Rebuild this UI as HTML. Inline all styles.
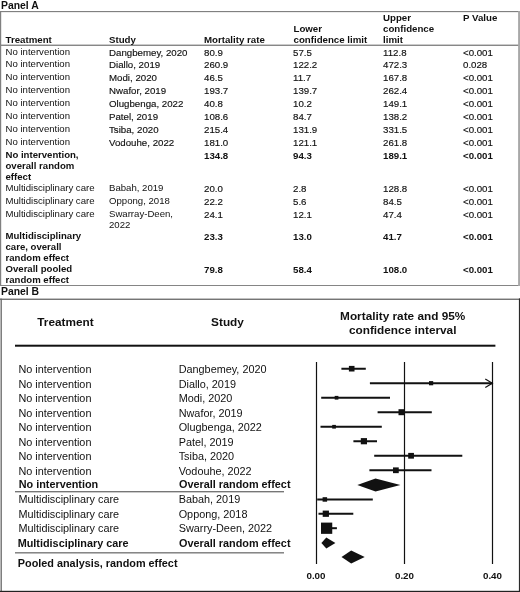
<!DOCTYPE html>
<html lang="en"><head><meta charset="utf-8"><title>Figure</title>
<style>
html,body{margin:0;padding:0;background:#fff;}
body{width:520px;height:592px;position:relative;overflow:hidden;font-family:"Liberation Sans",sans-serif;color:#111;}
.t{position:absolute;white-space:nowrap;font-size:8.6px;line-height:11px;}
.b{font-weight:bold;}
.pa{font-size:10.4px;line-height:12px;}
.h{font-size:9.7px;line-height:11px;}
.a{font-size:9.6px;line-height:11px;}
.c{font-size:9.7px;line-height:11px;-webkit-text-stroke:0.15px #111;}
.c.b{-webkit-text-stroke:0;}
.c.ml{line-height:10.3px;}
.bh{font-size:11.8px;line-height:14px;}
.ctr{transform:translateX(-50%);text-align:center;}
.br{font-size:10.85px;line-height:13px;}
.br.b{font-size:10.85px;}
.boxA{position:absolute;left:0;top:11px;width:520px;height:275px;border:1px solid #7d7d7d;border-right:2px solid #aaa;box-sizing:border-box;}
.boxB{position:absolute;left:0;top:298px;width:520px;height:294px;border-left:2px solid #888;border-top:2px solid #888;border-right:1px solid #333;border-bottom:1px solid #222;box-sizing:border-box;}
.hl{position:absolute;height:1px;background:#444;}
.fp{position:absolute;left:0;top:0;}
</style></head>
<body>
<div class="t b pa" style="left:1px;top:-0.3px;">Panel A</div>
<div class="t b h" style="left:5.5px;top:33.64px;">Treatment</div>
<div class="t b h" style="left:109px;top:33.64px;">Study</div>
<div class="t b h" style="left:204px;top:33.64px;">Mortality rate</div>
<div class="t b h" style="left:293.5px;top:22.64px;">Lower<br>confidence limit</div>
<div class="t b h" style="left:383px;top:11.64px;">Upper<br>confidence<br>limit</div>
<div class="t b h" style="left:463px;top:11.64px;">P Value</div>
<div class="t a" style="left:5.5px;top:45.67px;">No intervention</div>
<div class="t c" style="left:109px;top:46.64px;">Dangbemey, 2020</div>
<div class="t c" style="left:204px;top:46.64px;">80.9</div>
<div class="t c" style="left:293px;top:46.64px;">57.5</div>
<div class="t c" style="left:383px;top:46.64px;">112.8</div>
<div class="t c" style="left:463px;top:46.64px;">&lt;0.001</div>
<div class="t a" style="left:5.5px;top:58.47px;">No intervention</div>
<div class="t c" style="left:109px;top:59.44px;">Diallo, 2019</div>
<div class="t c" style="left:204px;top:59.44px;">260.9</div>
<div class="t c" style="left:293px;top:59.44px;">122.2</div>
<div class="t c" style="left:383px;top:59.44px;">472.3</div>
<div class="t c" style="left:463px;top:59.44px;">0.028</div>
<div class="t a" style="left:5.5px;top:71.27px;">No intervention</div>
<div class="t c" style="left:109px;top:72.34px;">Modi, 2020</div>
<div class="t c" style="left:204px;top:72.34px;">46.5</div>
<div class="t c" style="left:293px;top:72.34px;">11.7</div>
<div class="t c" style="left:383px;top:72.34px;">167.8</div>
<div class="t c" style="left:463px;top:72.34px;">&lt;0.001</div>
<div class="t a" style="left:5.5px;top:84.17px;">No intervention</div>
<div class="t c" style="left:109px;top:85.34px;">Nwafor, 2019</div>
<div class="t c" style="left:204px;top:85.34px;">193.7</div>
<div class="t c" style="left:293px;top:85.34px;">139.7</div>
<div class="t c" style="left:383px;top:85.34px;">262.4</div>
<div class="t c" style="left:463px;top:85.34px;">&lt;0.001</div>
<div class="t a" style="left:5.5px;top:97.17px;">No intervention</div>
<div class="t c" style="left:109px;top:98.14px;">Olugbenga, 2022</div>
<div class="t c" style="left:204px;top:98.14px;">40.8</div>
<div class="t c" style="left:293px;top:98.14px;">10.2</div>
<div class="t c" style="left:383px;top:98.14px;">149.1</div>
<div class="t c" style="left:463px;top:98.14px;">&lt;0.001</div>
<div class="t a" style="left:5.5px;top:110.17px;">No intervention</div>
<div class="t c" style="left:109px;top:110.94px;">Patel, 2019</div>
<div class="t c" style="left:204px;top:110.94px;">108.6</div>
<div class="t c" style="left:293px;top:110.94px;">84.7</div>
<div class="t c" style="left:383px;top:110.94px;">138.2</div>
<div class="t c" style="left:463px;top:110.94px;">&lt;0.001</div>
<div class="t a" style="left:5.5px;top:123.17px;">No intervention</div>
<div class="t c" style="left:109px;top:123.64px;">Tsiba, 2020</div>
<div class="t c" style="left:204px;top:123.64px;">215.4</div>
<div class="t c" style="left:293px;top:123.64px;">131.9</div>
<div class="t c" style="left:383px;top:123.64px;">331.5</div>
<div class="t c" style="left:463px;top:123.64px;">&lt;0.001</div>
<div class="t a" style="left:5.5px;top:135.77px;">No intervention</div>
<div class="t c" style="left:109px;top:136.64px;">Vodouhe, 2022</div>
<div class="t c" style="left:204px;top:136.64px;">181.0</div>
<div class="t c" style="left:293px;top:136.64px;">121.1</div>
<div class="t c" style="left:383px;top:136.64px;">261.8</div>
<div class="t c" style="left:463px;top:136.64px;">&lt;0.001</div>
<div class="t b a ml" style="left:5.5px;top:149.07px;">No intervention,<br>overall random<br>effect</div>
<div class="t c b" style="left:204px;top:149.84px;">134.8</div>
<div class="t c b" style="left:293px;top:149.84px;">94.3</div>
<div class="t c b" style="left:383px;top:149.84px;">189.1</div>
<div class="t c b" style="left:463px;top:149.84px;">&lt;0.001</div>
<div class="t a" style="left:5.5px;top:181.67px;">Multidisciplinary care</div>
<div class="t a" style="left:109px;top:182.42px;">Babah, 2019</div>
<div class="t c" style="left:204px;top:183.14px;">20.0</div>
<div class="t c" style="left:293px;top:183.14px;">2.8</div>
<div class="t c" style="left:383px;top:183.14px;">128.8</div>
<div class="t c" style="left:463px;top:183.14px;">&lt;0.001</div>
<div class="t a" style="left:5.5px;top:194.67px;">Multidisciplinary care</div>
<div class="t a" style="left:109px;top:195.42px;">Oppong, 2018</div>
<div class="t c" style="left:204px;top:196.14px;">22.2</div>
<div class="t c" style="left:293px;top:196.14px;">5.6</div>
<div class="t c" style="left:383px;top:196.14px;">84.5</div>
<div class="t c" style="left:463px;top:196.14px;">&lt;0.001</div>
<div class="t a" style="left:5.5px;top:207.92px;">Multidisciplinary care</div>
<div class="t a" style="left:109px;top:208.17px;">Swarray-Deen,<br>2022</div>
<div class="t c" style="left:204px;top:208.89px;">24.1</div>
<div class="t c" style="left:293px;top:208.89px;">12.1</div>
<div class="t c" style="left:383px;top:208.89px;">47.4</div>
<div class="t c" style="left:463px;top:208.89px;">&lt;0.001</div>
<div class="t b a ml" style="left:5.5px;top:229.77px;">Multidisciplinary<br>care, overall<br>random effect</div>
<div class="t c b" style="left:204px;top:230.84px;">23.3</div>
<div class="t c b" style="left:293px;top:230.84px;">13.0</div>
<div class="t c b" style="left:383px;top:230.84px;">41.7</div>
<div class="t c b" style="left:463px;top:230.84px;">&lt;0.001</div>
<div class="t b a ml" style="left:5.5px;top:262.67px;">Overall pooled<br>random effect</div>
<div class="t c b" style="left:204px;top:263.84px;">79.8</div>
<div class="t c b" style="left:293px;top:263.84px;">58.4</div>
<div class="t c b" style="left:383px;top:263.84px;">108.0</div>
<div class="t c b" style="left:463px;top:263.84px;">&lt;0.001</div>
<div class="t b pa" style="left:1px;top:286.4px;">Panel B</div>
<div class="t b bh ctr" style="left:65.5px;top:315.01px;">Treatment</div>
<div class="t b bh ctr" style="left:227.5px;top:315.01px;">Study</div>
<div class="t b bh ctr" style="left:402.7px;top:309.41px;">Mortality rate and 95%<br>confidence interval</div>
<div class="t br" style="left:18.5px;top:363.19px;">No intervention</div>
<div class="t br" style="left:178.7px;top:363.19px;">Dangbemey, 2020</div>
<div class="t br" style="left:18.5px;top:377.69px;">No intervention</div>
<div class="t br" style="left:178.7px;top:377.69px;">Diallo, 2019</div>
<div class="t br" style="left:18.5px;top:392.19px;">No intervention</div>
<div class="t br" style="left:178.7px;top:392.19px;">Modi, 2020</div>
<div class="t br" style="left:18.5px;top:406.69px;">No intervention</div>
<div class="t br" style="left:178.7px;top:406.69px;">Nwafor, 2019</div>
<div class="t br" style="left:18.5px;top:421.19px;">No intervention</div>
<div class="t br" style="left:178.7px;top:421.19px;">Olugbenga, 2022</div>
<div class="t br" style="left:18.5px;top:435.69px;">No intervention</div>
<div class="t br" style="left:178.7px;top:435.69px;">Patel, 2019</div>
<div class="t br" style="left:18.5px;top:450.19px;">No intervention</div>
<div class="t br" style="left:178.7px;top:450.19px;">Tsiba, 2020</div>
<div class="t br" style="left:18.5px;top:464.69px;">No intervention</div>
<div class="t br" style="left:178.7px;top:464.69px;">Vodouhe, 2022</div>
<div class="t br b" style="left:18.7px;top:477.74px;">No intervention</div>
<div class="t br b" style="left:179px;top:477.74px;">Overall random effect</div>
<div class="t br" style="left:18.5px;top:493.24px;">Multidisciplinary care</div>
<div class="t br" style="left:178.7px;top:493.24px;">Babah, 2019</div>
<div class="t br" style="left:18.5px;top:507.74px;">Multidisciplinary care</div>
<div class="t br" style="left:178.7px;top:507.74px;">Oppong, 2018</div>
<div class="t br" style="left:18.5px;top:522.24px;">Multidisciplinary care</div>
<div class="t br" style="left:178.7px;top:522.24px;">Swarry-Deen, 2022</div>
<div class="t br b" style="left:17.7px;top:536.74px;">Multidisciplinary care</div>
<div class="t br b" style="left:179px;top:536.74px;">Overall random effect</div>
<div class="t br b" style="left:17.8px;top:556.74px;">Pooled analysis, random effect</div>
<svg class="fp" width="520" height="592" viewBox="0 0 520 592">
<rect x="0" y="44.7" width="519" height="1" fill="#555"/>
<rect x="15" y="491.2" width="269" height="1.1" fill="#555"/>
<rect x="15" y="552.3" width="269" height="1.1" fill="#555"/>
<rect x="0" y="11" width="1.2" height="275" fill="#808080"/>
<rect x="0" y="11" width="520" height="1.15" fill="#808080"/>
<rect x="0" y="285" width="520" height="1" fill="#858585"/>
<rect x="518.1" y="11" width="1.9" height="275" fill="#a8a8a8"/>
<rect x="0" y="298" width="1" height="294" fill="#b8b8b8"/>
<rect x="1" y="298.4" width="0.9" height="293.6" fill="#707070"/>
<rect x="0" y="298.4" width="520" height="0.6" fill="#999"/>
<rect x="0" y="299" width="520" height="0.9" fill="#666"/>
<rect x="518.9" y="298.4" width="1.1" height="293.6" fill="#2a2a2a"/>
<rect x="0" y="590.8" width="520" height="1.2" fill="#222"/>
<rect x="15" y="344.7" width="480.4" height="2" fill="#111"/>
<line x1="316.5" y1="362" x2="316.5" y2="564" stroke="#111" stroke-width="1.2"/>
<line x1="404.5" y1="362" x2="404.5" y2="564" stroke="#111" stroke-width="1.2"/>
<line x1="492.5" y1="362" x2="492.5" y2="564" stroke="#111" stroke-width="1.2"/>
<line x1="341.4" y1="368.75" x2="365.8" y2="368.75" stroke="#111" stroke-width="2"/>
<rect x="348.9" y="365.9" width="5.6" height="5.6" fill="#111"/>
<line x1="369.9" y1="383.25" x2="492.5" y2="383.25" stroke="#111" stroke-width="2"/>
<rect x="429.0" y="381.1" width="4.2" height="4.2" fill="#111"/>
<path d="M485.3 379.05 L492.3 383.25 L485.3 387.45" fill="none" stroke="#111" stroke-width="1.2"/>
<line x1="321.2" y1="397.75" x2="390.0" y2="397.75" stroke="#111" stroke-width="2"/>
<rect x="334.7" y="395.9" width="3.7" height="3.7" fill="#111"/>
<line x1="377.6" y1="412.25" x2="431.8" y2="412.25" stroke="#111" stroke-width="2"/>
<rect x="398.5" y="409.2" width="6" height="6" fill="#111"/>
<line x1="320.5" y1="426.75" x2="381.8" y2="426.75" stroke="#111" stroke-width="2"/>
<rect x="332.2" y="424.9" width="3.7" height="3.7" fill="#111"/>
<line x1="353.4" y1="441.25" x2="377.0" y2="441.25" stroke="#111" stroke-width="2"/>
<rect x="360.8" y="438.1" width="6.2" height="6.2" fill="#111"/>
<line x1="374.2" y1="455.75" x2="462.3" y2="455.75" stroke="#111" stroke-width="2"/>
<rect x="408.2" y="452.9" width="5.75" height="5.75" fill="#111"/>
<line x1="369.4" y1="470.25" x2="431.5" y2="470.25" stroke="#111" stroke-width="2"/>
<rect x="393.0" y="467.4" width="5.75" height="5.75" fill="#111"/>
<polygon points="357.3,485 375.5,478.6 400.4,485 375.5,491.4" fill="#111"/>
<line x1="317.2" y1="499.5" x2="372.8" y2="499.5" stroke="#111" stroke-width="2"/>
<rect x="322.6" y="497.2" width="4.5" height="4.5" fill="#111"/>
<line x1="318.5" y1="513.75" x2="353.3" y2="513.75" stroke="#111" stroke-width="2"/>
<rect x="322.7" y="510.6" width="6.25" height="6.25" fill="#111"/>
<line x1="321.3" y1="528.2" x2="336.9" y2="528.2" stroke="#111" stroke-width="2"/>
<rect x="321.0" y="522.6" width="11.25" height="11.25" fill="#111"/>
<polygon points="321.4,543 326.3,537.4 335.4,543 326.3,548.6" fill="#111"/>
<polygon points="341.5,557 351.2,550.5 364.7,557 351.2,563.5" fill="#111"/>
<text x="316" y="579" text-anchor="middle" font-family="Liberation Sans, sans-serif" font-weight="bold" font-size="9.8" fill="#111">0.00</text>
<text x="404.5" y="579" text-anchor="middle" font-family="Liberation Sans, sans-serif" font-weight="bold" font-size="9.8" fill="#111">0.20</text>
<text x="492.5" y="579" text-anchor="middle" font-family="Liberation Sans, sans-serif" font-weight="bold" font-size="9.8" fill="#111">0.40</text>
</svg>
</body></html>
